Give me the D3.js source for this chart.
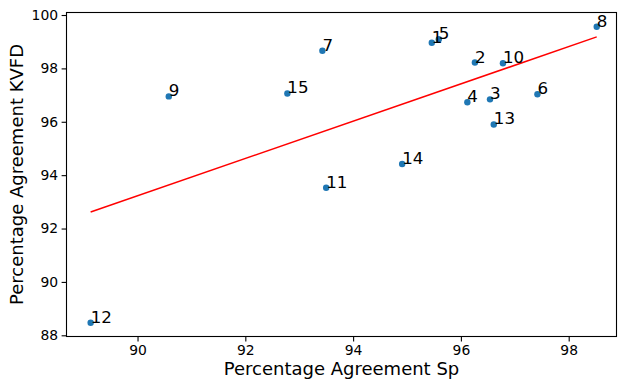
<!DOCTYPE html>
<html><head><meta charset="utf-8">
<script src="https://cdn.jsdelivr.net/npm/d3@7"></script>
<style>body{margin:0;background:#fff}svg{display:block}text{font-family:"DejaVu Sans",sans-serif}</style>
</head><body><svg id="c" width="618" height="381"></svg>
<script>
const labels = ["1","2","3","4","5","6","7","8","9","10","11","12","13","14","15"];
const spValues = [95.46,96.26,96.54,96.12,95.59,97.42,93.43,98.52,90.58,96.78,93.50,89.13,96.61,94.91,92.78];
const kvfdValues = [98.96,98.22,96.84,96.73,99.09,97.03,98.66,99.56,96.95,98.19,93.53,88.47,95.90,94.42,97.06];
const fitX = [89.13, 98.52];
const fitY = [92.62, 99.18];
const xTicks = [90,92,94,96,98];
const yTicks = [88,90,92,94,96,98,100];

const L=66.5, R=616.5, T=12.5, B=336.5;
const svg=d3.select("#c");
const x=d3.scaleLinear().domain([88.682,98.887]).range([L,R]);
const y=d3.scaleLinear().domain([87.955,100.094]).range([B,T]);

const xa=svg.append("g").attr("transform",`translate(0,${B})`)
  .call(d3.axisBottom(x).tickValues(xTicks).tickFormat(d3.format("d")).tickSize(4.9).tickPadding(3.5).tickSizeOuter(0));
const ya=svg.append("g").attr("transform",`translate(${L},0)`)
  .call(d3.axisLeft(y).tickValues(yTicks).tickFormat(d3.format("d")).tickSize(4.9).tickPadding(3.5).tickSizeOuter(0));
[xa,ya].forEach(g=>{g.select(".domain").remove();g.selectAll("line").attr("stroke","#000").attr("stroke-width",1.1);
  g.selectAll("text").attr("font-size","13.9px").attr("fill","#000").attr("font-family","DejaVu Sans");});

svg.append("rect").attr("x",L).attr("y",T).attr("width",R-L).attr("height",B-T)
  .attr("fill","none").attr("stroke","#000").attr("stroke-width",1.1);

const fit=fitX.map((v,i)=>[v,fitY[i]]);
svg.append("path").datum(fit).attr("d",d3.line().x(d=>x(d[0])).y(d=>y(d[1])))
  .attr("stroke","#ff0000").attr("stroke-width",1.5).attr("fill","none");

const pts=labels.map((l,i)=>({l,x:spValues[i],y:kvfdValues[i]}));
svg.append("g").selectAll("circle").data(pts).join("circle")
  .attr("cx",d=>x(d.x)).attr("cy",d=>y(d.y)).attr("r",3.2).attr("fill","#1f77b4");
svg.append("g").selectAll("text").data(pts).join("text")
  .attr("x",d=>x(d.x)).attr("y",d=>y(d.y)).text(d=>d.l)
  .attr("font-size","16.7px").attr("fill","#000");

svg.append("text").attr("x",(L+R)/2).attr("y",375).attr("text-anchor","middle")
  .attr("font-size","18px").attr("fill","#000").text("Percentage Agreement Sp");
svg.append("text").attr("transform",`translate(23,${(T+B)/2}) rotate(-90)`).attr("text-anchor","middle")
  .attr("font-size","18px").attr("fill","#000").text("Percentage Agreement KVFD");
</script></body></html>
